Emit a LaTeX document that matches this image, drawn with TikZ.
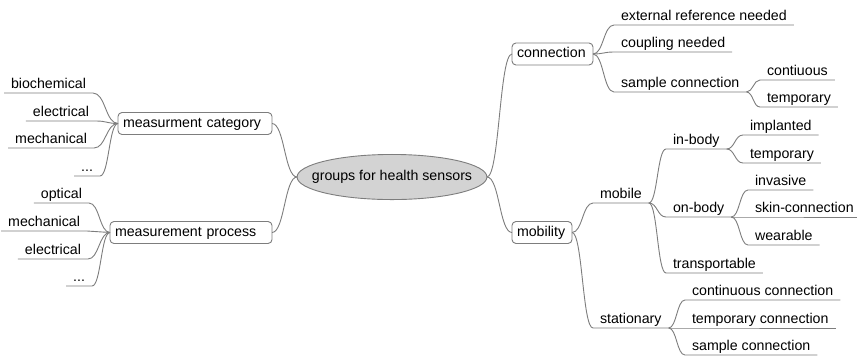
\documentclass[tikz,border=0pt]{standalone}
\usepackage{fontspec}
\setmainfont{Liberation Sans}
\usetikzlibrary{shapes.geometric,calc}
\definecolor{edgegray}{RGB}{125,125,125}
\definecolor{rootfill}{RGB}{211,211,211}
\begin{document}
\begin{tikzpicture}[x=1pt,y=-1pt,
  font=\fontsize{14.2}{17}\selectfont,
  edge/.style={draw=edgegray, line width=0.9pt},
  fork/.style={to path={let \p1=(\tikztostart), \p2=(\tikztotarget) in
      .. controls ({0.5*\x1+0.5*\x2},\y1) and ({0.5*\x1+0.5*\x2},\y2) .. (\tikztotarget)}},
  leafr/.style={anchor=south west, inner xsep=7pt, inner ysep=1.5pt, outer sep=0pt,
      text height=10.5pt, text depth=3pt},
  leafl/.style={leafr, anchor=south east},
  topic/.style={draw=edgegray, line width=0.9pt, fill=white, rounded corners=4pt,
      minimum height=22pt, inner xsep=5pt, inner ysep=0pt, outer sep=0pt,
      text height=10.5pt, text depth=3pt, align=left},
  rootnode/.style={ellipse, draw=edgegray, fill=rootfill, line width=0.9pt,
      inner xsep=-13pt, inner ysep=9.2pt, outer sep=0pt,
      text height=10.5pt, text depth=3pt}]
\useasboundingbox (0,0) rectangle (857,357);

% central node and main topics
\node[rootnode] (root) at (392,177) {groups for health sensors};
\node[topic, text width=144pt, anchor=east] (mcat) at (272,123.5) {measurment category};
\node[topic, text width=152pt, anchor=east] (mproc) at (272,232.5) {measurement process};
\node[topic, text width=71pt, anchor=west] (conn) at (512,54) {connection};
\node[topic, text width=50pt, anchor=west] (mob) at (512,232.5) {mobility};

\draw[edge] (root.west) to[fork] (mcat.east);
\draw[edge] (root.west) to[fork] (mproc.east);
\draw[edge] (root.east) to[fork] (conn.west);
\draw[edge] (root.east) to[fork] (mob.west);

% left: measurment category
\node[leafl] (bio) at (93,93) {biochemical};
\node[leafl] (elA) at (96,121) {electrical};
\node[leafl] (meA) at (94,148) {mechanical};
\node[leafl] (dotA) at (100,176) {...};
\foreach \k in {bio,elA,meA,dotA}
  \draw[edge] (mcat.west) to[fork] (\k.south east) -- (\k.south west);

% left: measurement process
\node[leafl] (opt) at (89,203) {optical};
\node[leafl] (meB) at (87,231) {mechanical};
\node[leafl] (elB) at (88,259) {electrical};
\node[leafl] (dotB) at (92,286) {...};
\foreach \k in {opt,meB,elB,dotB}
  \draw[edge] (mproc.west) to[fork] (\k.south east) -- (\k.south west);

% right: connection
\node[leafr] (extref) at (614,25) {external reference needed};
\node[leafr] (coup) at (614,52) {coupling needed};
\node[leafr] (sconn) at (614,92) {sample connection};
\foreach \k in {extref,coup,sconn}
  \draw[edge] (conn.east) to[fork] (\k.south west) -- (\k.south east);
\node[leafr] (cont) at (760,80) {contiuous};
\node[leafr] (tempA) at (760,107) {temporary};
\foreach \k in {cont,tempA}
  \draw[edge] (sconn.south east) to[fork] (\k.south west) -- (\k.south east);

% right: mobility
\node[leafr] (mobile) at (593,203) {mobile};
\node[leafr] (stat) at (593,328) {stationary};
\foreach \k in {mobile,stat}
  \draw[edge] (mob.east) to[fork] (\k.south west) -- (\k.south east);

\node[leafr] (inb) at (666,149) {in-body};
\node[leafr] (onb) at (666,217) {on-body};
\node[leafr] (trans) at (666,273) {transportable};
\foreach \k in {inb,onb,trans}
  \draw[edge] (mobile.south east) to[fork] (\k.south west) -- (\k.south east);

\node[leafr] (impl) at (743,135) {implanted};
\node[leafr] (tempB) at (743,163) {temporary};
\foreach \k in {impl,tempB}
  \draw[edge] (inb.south east) to[fork] (\k.south west) -- (\k.south east);

\node[leafr] (inv) at (748,190) {invasive};
\node[leafr] (skin) at (748,217) {skin-connection};
\node[leafr] (wear) at (748,245) {wearable};
\foreach \k in {inv,skin,wear}
  \draw[edge] (onb.south east) to[fork] (\k.south west) -- (\k.south east);

\node[leafr] (ccon) at (685,300) {continuous connection};
\node[leafr] (tcon) at (685,328) {temporary connection};
\node[leafr] (scon) at (685,355) {sample connection};
\foreach \k in {ccon,tcon,scon}
  \draw[edge] (stat.south east) to[fork] (\k.south west) -- (\k.south east);
\end{tikzpicture}
\end{document}
